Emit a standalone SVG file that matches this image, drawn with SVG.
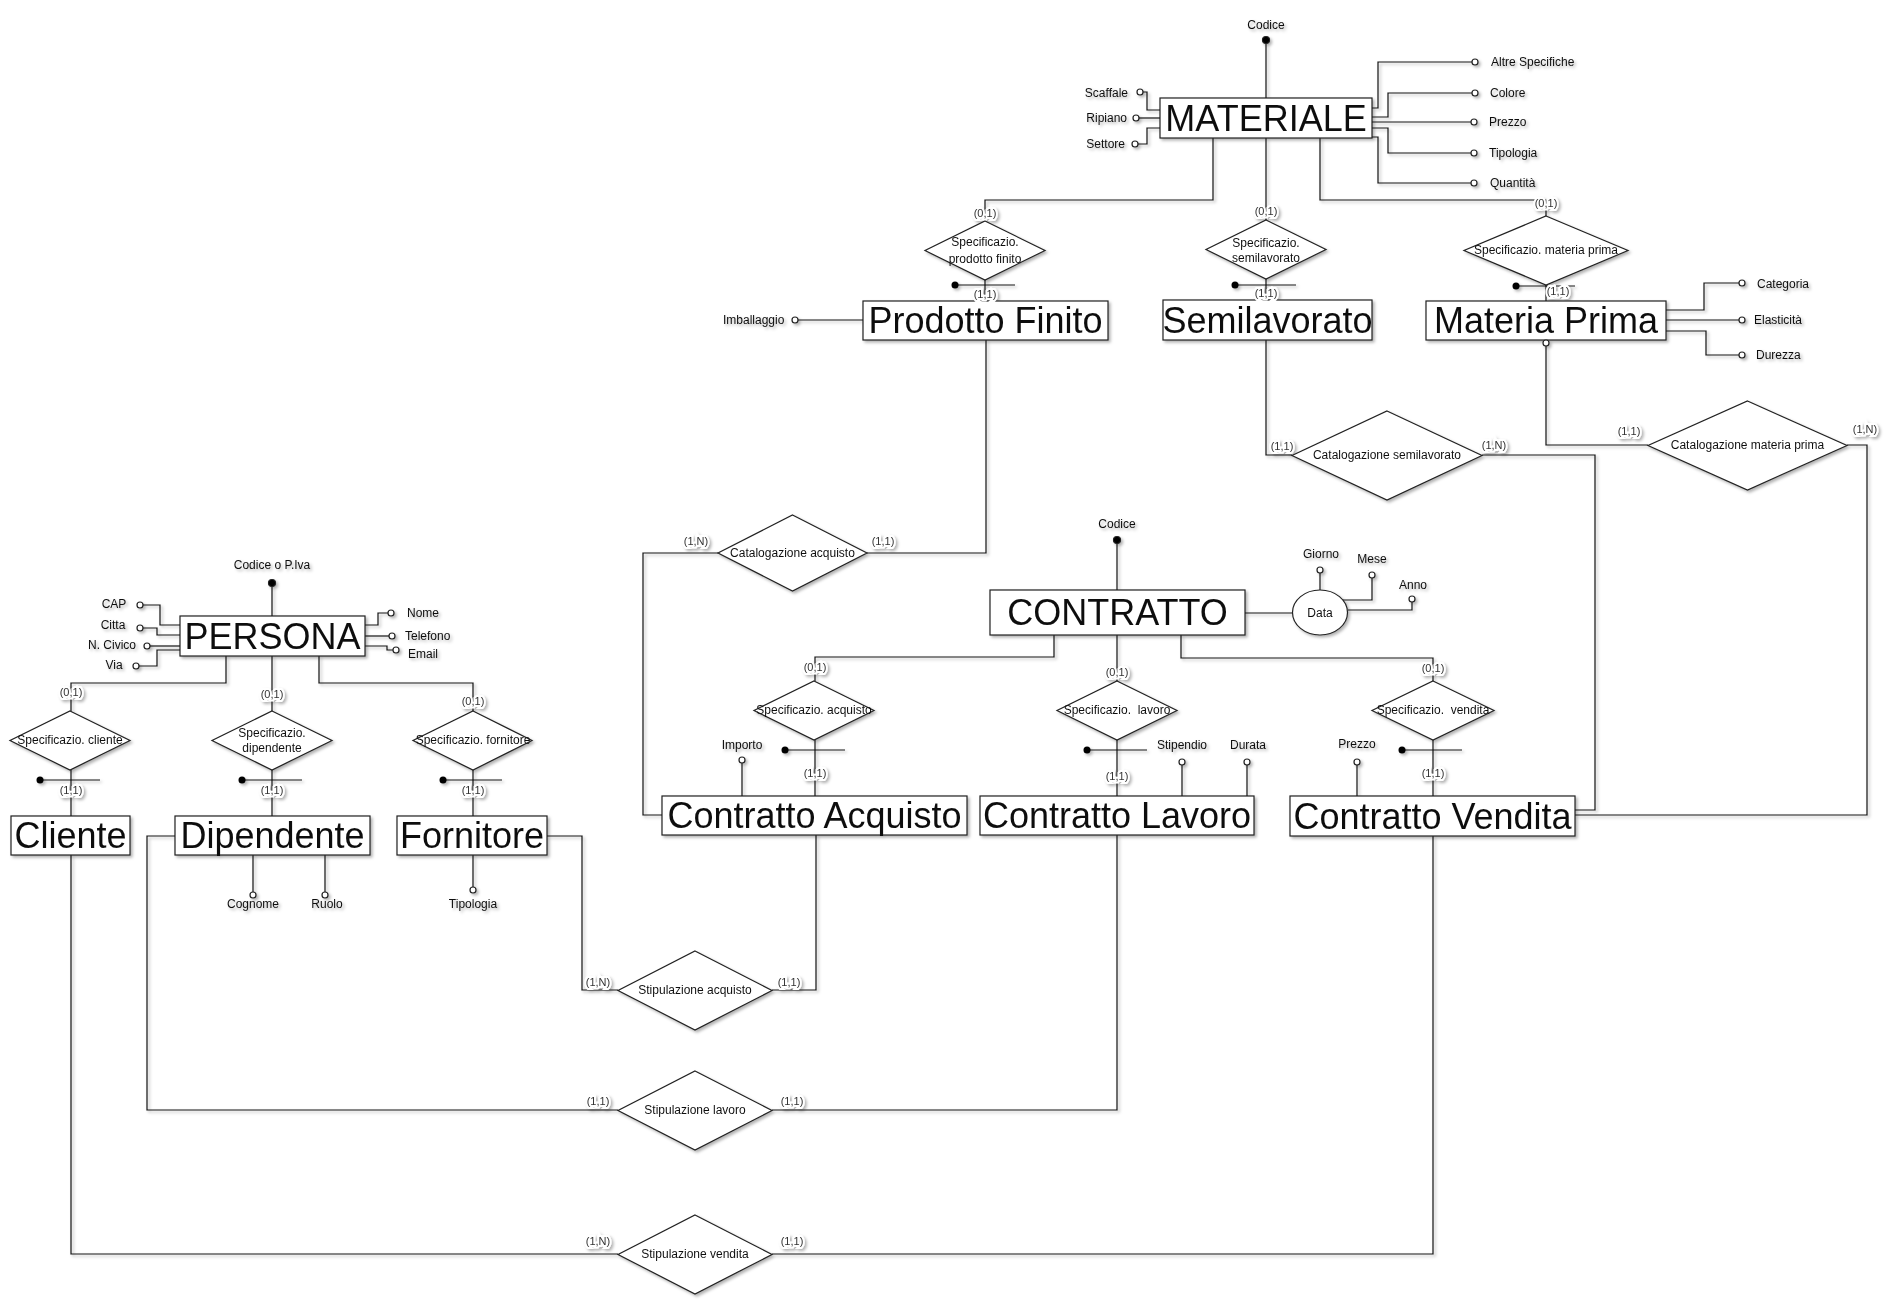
<svg xmlns="http://www.w3.org/2000/svg" width="1894" height="1311" viewBox="0 0 1894 1311">
<defs>
<filter id="sh" x="-10%" y="-10%" width="120%" height="120%">
<feDropShadow dx="2" dy="2" stdDeviation="1.5" flood-color="#000" flood-opacity="0.3"/>
</filter>
</defs>
<style>
text{font-family:"Liberation Sans",Arial,sans-serif;fill:#111}
.ent rect{fill:#fff;stroke:#222;stroke-width:1.2}
.ent text{font-size:36px;text-anchor:middle}
.rel polygon{fill:#fff;stroke:#222;stroke-width:1.2}
.rel text{font-size:12px;text-anchor:middle;white-space:pre}
.att text{font-size:12px}
.att circle{fill:#fff;stroke:#222;stroke-width:1.2}
.key circle{fill:#000}
.card{font-size:11px;text-anchor:middle;paint-order:stroke;stroke:#fff;stroke-width:4px;fill:#333}
#connectors path{fill:none;stroke:#111;stroke-width:1.2}
.m{text-anchor:middle}
.e{text-anchor:end}
</style>
<rect width="1894" height="1311" fill="#fff"/>
<g filter="url(#sh)">
<g id="connectors">
<path d="M1266,40V98"/>
<path d="M1143,92H1147V110H1160"/>
<path d="M1139,118H1160"/>
<path d="M1138,144H1147V128H1160"/>
<path d="M1372,108H1378V62H1472"/>
<path d="M1372,117H1388V93H1472"/>
<path d="M1372,122H1471"/>
<path d="M1372,128H1388V153H1471"/>
<path d="M1372,137H1378V183H1471"/>
<path d="M1213,138V200H985V221"/>
<path d="M1266,138V220"/>
<path d="M1320,138V200H1546V216"/>
<path d="M985,280V301"/>
<path d="M1266,279V300"/>
<path d="M1546,285V301"/>
<path d="M955,285H1015"/>
<path d="M1235,285H1296"/>
<path d="M1516,286H1575"/>
<path d="M798,320H863"/>
<path d="M1666,310H1704V283H1739"/>
<path d="M1666,320H1739"/>
<path d="M1666,331H1706V355H1739"/>
<path d="M1266,340V455H1292"/>
<path d="M1482,455H1595V810H1575"/>
<path d="M1546,346V445H1648"/>
<path d="M1847,445H1867V815H1575"/>
<path d="M986,340V553H867"/>
<path d="M718,553H643V815H662"/>
<path d="M1117,540V590"/>
<path d="M1245,613H1293"/>
<path d="M1320,573V590"/>
<path d="M1372,578V600H1343"/>
<path d="M1412,602V610H1348"/>
<path d="M1054,635V657H815V681"/>
<path d="M1117,635V681"/>
<path d="M1181,635V658H1433V681"/>
<path d="M815,740V796"/>
<path d="M1117,740V796"/>
<path d="M1433,740V796"/>
<path d="M785,750H845"/>
<path d="M1087,750H1147"/>
<path d="M1402,750H1462"/>
<path d="M742,763V796"/>
<path d="M1182,765V796"/>
<path d="M1247,765V796"/>
<path d="M1357,765V796"/>
<path d="M272,583V616"/>
<path d="M143,605H160V625H180"/>
<path d="M143,628H157V635H180"/>
<path d="M150,646H180"/>
<path d="M139,666H157V650H180"/>
<path d="M365,625H378V613H388"/>
<path d="M365,636H389"/>
<path d="M365,646H387V650H393"/>
<path d="M226,656V683H71V711"/>
<path d="M272,656V711"/>
<path d="M319,656V683H473V711"/>
<path d="M71,770V816"/>
<path d="M272,770V816"/>
<path d="M473,770V816"/>
<path d="M40,780H100"/>
<path d="M242,780H302"/>
<path d="M443,780H502"/>
<path d="M253,855V892"/>
<path d="M325,855V892"/>
<path d="M473,855V887"/>
<path d="M71,855V1254H618"/>
<path d="M175,836H147V1110H618"/>
<path d="M547,836H582V990H618"/>
<path d="M772,990H816V835"/>
<path d="M772,1110H1117V835"/>
<path d="M772,1254H1433V836"/>
</g>

<g id="materiale" class="ent"><rect x="1160" y="98" width="212" height="40"/><text x="1266" y="131">MATERIALE</text></g>
<g id="prodotto-finito" class="ent"><rect x="863" y="301" width="245" height="39"/><text x="985.5" y="333">Prodotto Finito</text></g>
<g id="semilavorato" class="ent"><rect x="1163" y="300" width="209" height="40"/><text x="1267.5" y="333">Semilavorato</text></g>
<g id="materia-prima" class="ent"><rect x="1426" y="301" width="240" height="39"/><text x="1546" y="333">Materia Prima</text></g>
<g id="contratto" class="ent"><rect x="990" y="590" width="255" height="45"/><text x="1117.5" y="625">CONTRATTO</text></g>
<g id="contratto-acquisto" class="ent"><rect x="662" y="796" width="305" height="39"/><text x="814.5" y="828">Contratto Acquisto</text></g>
<g id="contratto-lavoro" class="ent"><rect x="980" y="796" width="274" height="39"/><text x="1117" y="828">Contratto Lavoro</text></g>
<g id="contratto-vendita" class="ent"><rect x="1290" y="796" width="285" height="40"/><text x="1432.5" y="829">Contratto Vendita</text></g>
<g id="persona" class="ent"><rect x="180" y="616" width="185" height="40"/><text x="272.5" y="649">PERSONA</text></g>
<g id="cliente" class="ent"><rect x="11" y="816" width="119" height="39"/><text x="70.5" y="848">Cliente</text></g>
<g id="dipendente" class="ent"><rect x="175" y="816" width="195" height="39"/><text x="272.5" y="848">Dipendente</text></g>
<g id="fornitore" class="ent"><rect x="397" y="816" width="150" height="39"/><text x="472" y="848">Fornitore</text></g>

<g id="spec-prodotto-finito" class="rel"><polygon points="985,221 1045,250.5 985,280 925,250.5"/><text x="985" y="246">Specificazio.</text><text x="985" y="263">prodotto finito</text></g>
<g id="spec-semilavorato" class="rel"><polygon points="1266,220 1326,249.5 1266,279 1206,249.5"/><text x="1266" y="247">Specificazio.</text><text x="1266" y="262">semilavorato</text></g>
<g id="spec-materia-prima" class="rel"><polygon points="1546,216 1628,250.5 1546,285 1464,250.5"/><text x="1546" y="254">Specificazio. materia prima</text></g>
<g id="cat-semilavorato" class="rel"><polygon points="1387,411 1482,455.5 1387,500 1292,455.5"/><text x="1387" y="459">Catalogazione semilavorato</text></g>
<g id="cat-materia-prima" class="rel"><polygon points="1747.5,401 1847,445.5 1747.5,490 1648,445.5"/><text x="1747.5" y="449">Catalogazione materia prima</text></g>
<g id="cat-acquisto" class="rel"><polygon points="792.5,515 867,553 792.5,591 718,553"/><text x="792.5" y="557">Catalogazione acquisto</text></g>
<g id="spec-acquisto" class="rel"><polygon points="814,681 874,710.5 814,740 754,710.5"/><text x="814" y="714">Specificazio. acquisto</text></g>
<g id="spec-lavoro" class="rel"><polygon points="1117,681 1177,710.5 1117,740 1057,710.5"/><text x="1117" y="714">Specificazio.  lavoro</text></g>
<g id="spec-vendita" class="rel"><polygon points="1433,681 1494,710.5 1433,740 1372,710.5"/><text x="1433" y="714">Specificazio.  vendita</text></g>
<g id="spec-cliente" class="rel"><polygon points="70,711 130,740.5 70,770 10,740.5"/><text x="70" y="744">Specificazio. cliente</text></g>
<g id="spec-dipendente" class="rel"><polygon points="272,711 332,740.5 272,770 212,740.5"/><text x="272" y="737">Specificazio.</text><text x="272" y="752">dipendente</text></g>
<g id="spec-fornitore" class="rel"><polygon points="473,711 532,740.5 473,770 413,740.5"/><text x="473" y="744">Specificazio. fornitore</text></g>
<g id="stip-acquisto" class="rel"><polygon points="695,951 772,990.5 695,1030 618,990.5"/><text x="695" y="994">Stipulazione acquisto</text></g>
<g id="stip-lavoro" class="rel"><polygon points="695,1071 772,1110.5 695,1150 618,1110.5"/><text x="695" y="1114">Stipulazione lavoro</text></g>
<g id="stip-vendita" class="rel"><polygon points="695,1215 772,1254.5 695,1294 618,1254.5"/><text x="695" y="1258">Stipulazione vendita</text></g>

<g id="data" class="att"><ellipse cx="1320" cy="612.5" rx="27.5" ry="22.5" fill="#fff" stroke="#222" stroke-width="1.2"/><text x="1320" y="617" class="m">Data</text></g>

<g id="attr-materiale" class="att">
<g class="key"><circle cx="1266" cy="40" r="3.5"/></g><text x="1266" y="29" class="m">Codice</text>
<circle cx="1140" cy="92" r="3"/><text x="1128" y="97" class="e">Scaffale</text>
<circle cx="1136" cy="118" r="3"/><text x="1127" y="122" class="e">Ripiano</text>
<circle cx="1135" cy="144" r="3"/><text x="1125" y="148" class="e">Settore</text>
<circle cx="1475" cy="62" r="3"/><text x="1491" y="66">Altre Specifiche</text>
<circle cx="1475" cy="93" r="3"/><text x="1490" y="97">Colore</text>
<circle cx="1474" cy="122" r="3"/><text x="1489" y="126">Prezzo</text>
<circle cx="1474" cy="153" r="3"/><text x="1489" y="157">Tipologia</text>
<circle cx="1474" cy="183" r="3"/><text x="1490" y="187">Quantità</text>
</g>
<g id="attr-prodotto-finito" class="att"><circle cx="795" cy="320" r="3"/><text x="723" y="324">Imballaggio</text></g>
<g id="attr-materia-prima" class="att">
<circle cx="1742" cy="283" r="3"/><text x="1757" y="288">Categoria</text>
<circle cx="1742" cy="320" r="3"/><text x="1754" y="324">Elasticità</text>
<circle cx="1742" cy="355" r="3"/><text x="1756" y="359">Durezza</text>
<circle cx="1546" cy="343" r="3"/>
</g>
<g id="attr-contratto" class="att">
<g class="key"><circle cx="1117" cy="540" r="3.5"/></g><text x="1117" y="528" class="m">Codice</text>
<circle cx="1320" cy="570" r="3"/><text x="1321" y="558" class="m">Giorno</text>
<circle cx="1372" cy="575" r="3"/><text x="1372" y="563" class="m">Mese</text>
<circle cx="1412" cy="599" r="3"/><text x="1413" y="589" class="m">Anno</text>
<circle cx="742" cy="760" r="3"/><text x="742" y="749" class="m">Importo</text>
<circle cx="1182" cy="762" r="3"/><text x="1182" y="749" class="m">Stipendio</text>
<circle cx="1247" cy="762" r="3"/><text x="1248" y="749" class="m">Durata</text>
<circle cx="1357" cy="762" r="3"/><text x="1357" y="748" class="m">Prezzo</text>
</g>
<g id="attr-persona" class="att">
<g class="key"><circle cx="272" cy="583" r="3.5"/></g><text x="272" y="569" class="m">Codice o P.Iva</text>
<circle cx="140" cy="605" r="3"/><text x="114" y="608" class="m">CAP</text>
<circle cx="140" cy="628" r="3"/><text x="113" y="629" class="m">Citta</text>
<circle cx="147" cy="646" r="3"/><text x="112" y="649" class="m">N. Civico</text>
<circle cx="136" cy="666" r="3"/><text x="114" y="669" class="m">Via</text>
<circle cx="391" cy="613" r="3"/><text x="407" y="617">Nome</text>
<circle cx="392" cy="636" r="3"/><text x="405" y="640">Telefono</text>
<circle cx="396" cy="650" r="3"/><text x="408" y="658">Email</text>
<circle cx="253" cy="895" r="3"/><text x="253" y="908" class="m">Cognome</text>
<circle cx="325" cy="895" r="3"/><text x="327" y="908" class="m">Ruolo</text>
<circle cx="473" cy="890" r="3"/><text x="473" y="908" class="m">Tipologia</text>
</g>
<g id="identifiers" class="key">
<circle cx="955" cy="285" r="3.5"/><circle cx="1235" cy="285" r="3.5"/><circle cx="1516" cy="286" r="3.5"/>
<circle cx="785" cy="750" r="3.5"/><circle cx="1087" cy="750" r="3.5"/><circle cx="1402" cy="750" r="3.5"/>
<circle cx="40" cy="780" r="3.5"/><circle cx="242" cy="780" r="3.5"/><circle cx="443" cy="780" r="3.5"/>
</g>

<g id="cardinalities">
<text class="card" x="985" y="217">(0,1)</text>
<text class="card" x="985" y="298">(1,1)</text>
<text class="card" x="1266" y="215">(0,1)</text>
<text class="card" x="1266" y="297">(1,1)</text>
<text class="card" x="1546" y="207">(0,1)</text>
<text class="card" x="1558" y="295">(1,1)</text>
<text class="card" x="1282" y="450">(1,1)</text>
<text class="card" x="1494" y="449">(1,N)</text>
<text class="card" x="1629" y="435">(1,1)</text>
<text class="card" x="1865" y="433">(1,N)</text>
<text class="card" x="696" y="545">(1,N)</text>
<text class="card" x="883" y="545">(1,1)</text>
<text class="card" x="815" y="671">(0,1)</text>
<text class="card" x="815" y="777">(1,1)</text>
<text class="card" x="1117" y="676">(0,1)</text>
<text class="card" x="1117" y="780">(1,1)</text>
<text class="card" x="1433" y="672">(0,1)</text>
<text class="card" x="1433" y="777">(1,1)</text>
<text class="card" x="71" y="696">(0,1)</text>
<text class="card" x="71" y="794">(1,1)</text>
<text class="card" x="272" y="698">(0,1)</text>
<text class="card" x="272" y="794">(1,1)</text>
<text class="card" x="473" y="705">(0,1)</text>
<text class="card" x="473" y="794">(1,1)</text>
<text class="card" x="598" y="986">(1,N)</text>
<text class="card" x="789" y="986">(1,1)</text>
<text class="card" x="598" y="1105">(1,1)</text>
<text class="card" x="792" y="1105">(1,1)</text>
<text class="card" x="598" y="1245">(1,N)</text>
<text class="card" x="792" y="1245">(1,1)</text>
</g>
</g>
</svg>
